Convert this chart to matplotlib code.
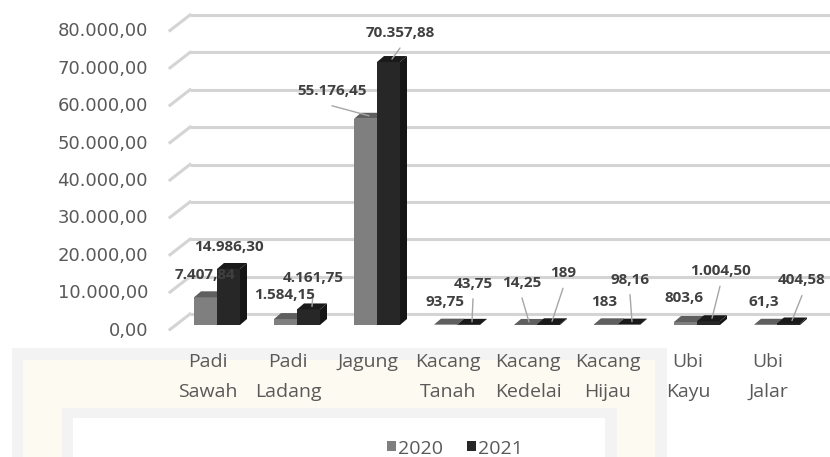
import matplotlib.pyplot as plt
from matplotlib.patches import Polygon, Rectangle
from matplotlib.transforms import Affine2D

# Production per crop, 2020 vs 2021
categories = ["Padi\nSawah", "Padi\nLadang", "Jagung", "Kacang\nTanah",
              "Kacang\nKedelai", "Kacang\nHijau", "Ubi\nKayu", "Ubi\nJalar"]
years = ["2020", "2021"]
values_2020 = [7407.84, 1584.15, 55176.45, 93.75, 14.25, 183, 803.6, 61.3]
values_2021 = [14986.30, 4161.75, 70357.88, 43.75, 189, 98.16, 1004.50, 404.58]
decimals_2020 = [2, 2, 2, 2, 2, 0, 1, 1]
decimals_2021 = [2, 2, 2, 2, 0, 2, 2, 2]
y_ticks = [0, 10000, 20000, 30000, 40000, 50000, 60000, 70000, 80000]

# label placement (pixels from top face of each bar), leader line on/off
label_off_2020 = [(-4, -19), (-4, -21), (-37, -25), (-4, -20), (-7, -39), (-5, -19), (-5, -21), (-5, -20)]
label_off_2021 = [(-3, -19), (1, -28), (8, -26), (1, -38), (11, -48), (-2, -42), (8, -47), (10, -40)]
leader_2020 = [False, False, True, False, True, False, False, False]
leader_2021 = [False, True, True, True, True, True, True, True]

W, H = 830, 457
TEXT = "#595959"
LABEL = "#404040"
GRID = "#d4d4d4"
faces = {
    "2020": ("#7f7f7f", "#5f5f5f", "#555555"),
    "2021": ("#272727", "#1a1a1a", "#151515"),
}


def fmt_id(v, d):
    s = f"{v:,.{d}f}"
    return s.replace(",", "X").replace(".", ",").replace("X", ".")


fig = plt.figure(figsize=(W / 100, H / 100), dpi=100)
px = Affine2D().scale(0.01, -0.01).translate(0, H / 100) + fig.dpi_scale_trans

# faint logo frame in the background
for (x0, y0, x1, y1), c in [((12, 348, 667, 457), "#f3f3f3"),
                             ((23, 360, 655, 457), "#fdfbf1"),
                             ((62, 408, 617, 457), "#f3f3f3"),
                             ((73, 418, 605, 457), "white")]:
    fig.patches.append(Rectangle((x0, y0), x1 - x0, y1 - y0, transform=px,
                                 facecolor=c, edgecolor="none", zorder=0))

# plotting area: value 0 at y=325px, 80000 at y=26px, groups 80px apart
y0_px, ytop_px, x_left_px, c0_px, step_px = 325, 26, 170, 217, 80
ax = fig.add_axes([x_left_px / W, (H - y0_px) / H, (W - x_left_px) / W, (y0_px - ytop_px) / H])
ax.set_xlim((x_left_px - c0_px) / step_px, (W - c0_px) / step_px)
ax.set_ylim(0, 80000)
ax.axis("off")
ax.patch.set_alpha(0)

ux = 1 / step_px                       # data x per pixel
uy = 80000 / (y0_px - ytop_px)         # data y per pixel
bw = 23 * ux
ddx, ddy = 7 * ux, 6 * uy              # bar depth

# gridlines on the back wall with the slanted side-wall stub
for v in y_ticks:
    xb = (190 - c0_px) * ux
    ax.plot([xb, ax.get_xlim()[1]], [v + 11 * uy] * 2, color=GRID, lw=2.2,
            solid_capstyle="butt", clip_on=False, zorder=1)
    ax.plot([ax.get_xlim()[0], xb], [v - 4.5 * uy, v + 11 * uy], color=GRID, lw=2.2,
            clip_on=False, zorder=1)
    ax.text(ax.get_xlim()[0] - 22 * ux, v - 5.5 * uy, fmt_id(v, 2), ha="right", va="center",
            fontsize=13, color=TEXT, family="DejaVu Sans")


def draw_bar(x0, h, cols, z):
    front, top, side = cols
    ax.bar(x0, h, width=bw, align="edge", color=front, edgecolor="none", zorder=z, clip_on=False)
    ax.add_patch(Polygon([(x0, h), (x0 + bw, h), (x0 + bw + ddx, h + ddy), (x0 + ddx, h + ddy)],
                         closed=True, facecolor=top, edgecolor="none", zorder=z, clip_on=False))
    ax.add_patch(Polygon([(x0 + bw, 0), (x0 + bw + ddx, ddy), (x0 + bw + ddx, h + ddy), (x0 + bw, h)],
                         closed=True, facecolor=side, edgecolor="none", zorder=z, clip_on=False))


series = [
    ("2020", values_2020, decimals_2020, label_off_2020, leader_2020, -bw),
    ("2021", values_2021, decimals_2021, label_off_2021, leader_2021, 0.0),
]
for i in range(len(categories)):
    for k, (yr, vals, decs, offs, leads, shift) in enumerate(series):
        x0 = i + shift
        h = vals[i]
        draw_bar(x0, h, faces[yr], 3 + 2 * i + k)
        anchor = (x0 + bw / 2 + ddx / 2, h + ddy / 2)
        ox, oy = offs[i]
        if leads[i]:
            ax.annotate("", xy=anchor, xytext=(ox, -(oy + 15)), textcoords="offset pixels",
                        arrowprops=dict(arrowstyle="-", color="#a6a6a6", lw=1, shrinkA=0, shrinkB=0),
                        zorder=30)
        ax.annotate(fmt_id(h, decs[i]), xy=anchor, xytext=(ox, -oy), textcoords="offset pixels",
                    ha="center", va="center", fontsize=11, fontweight="bold", color=LABEL,
                    family="Open Sans", zorder=31)

# category labels along the floor edge
for i, name in enumerate(categories):
    xc = c0_px + step_px * i - 9
    for j, line in enumerate(name.split("\n")):
        fig.text(xc, 367 + 30 * j, line, transform=px, ha="center", va="baseline",
                 fontsize=14, color=TEXT, family="Open Sans")

# legend
lx = 387
for yr in years:
    fig.patches.append(Rectangle((lx, 441), 9, 10, transform=px,
                                 facecolor=faces[yr][0], edgecolor="none"))
    fig.text(lx + 11, 454, yr, transform=px, ha="left", va="baseline",
             fontsize=14, color=TEXT, family="Open Sans")
    lx += 80

fig.savefig("out.png", dpi=100)
